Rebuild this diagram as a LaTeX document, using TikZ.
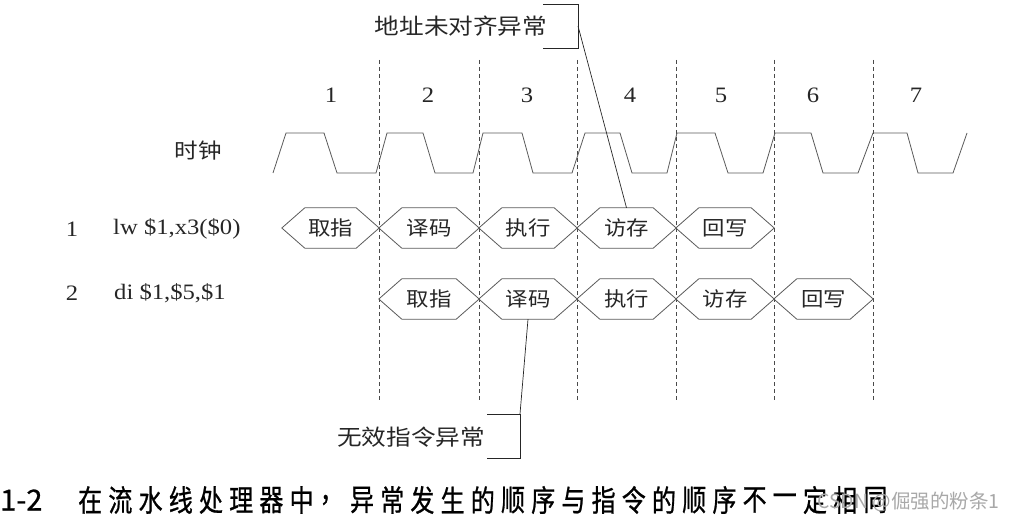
\documentclass[tikz,border=0pt]{standalone}
\usepackage{fontspec}
\setmainfont{Liberation Serif}[FakeStretch=1.12]
\newfontfamily\cjk{Noto Sans CJK SC}[FakeStretch=1.12]
\newfontfamily\capcjk{Noto Sans CJK SC}[FakeStretch=0.8,FakeBold=0.8]
\newfontfamily\capnumfont{Noto Sans CJK SC}[FakeBold=0.8]
\newfontfamily\wmfont{Noto Sans CJK SC}
\definecolor{ink}{HTML}{262626}
\definecolor{linegray}{HTML}{5A5A5A}
\definecolor{gridgray}{HTML}{4A4A4A}
\definecolor{wmgray}{HTML}{A8A8A8}
\begin{document}
\begin{tikzpicture}[x=1pt,y=-1pt,
  lbl/.style={inner sep=0pt, text=ink, font=\fontsize{22}{22}\selectfont},
  cn/.style={inner sep=0pt, text=ink, font=\cjk\fontsize{22}{22}\selectfont},
  hexnode/.style={inner sep=0pt, minimum height=40pt, text=ink, font=\cjk\fontsize{20}{20}\selectfont},
  hexline/.style={draw=linegray, line width=0.8pt},
  gridline/.style={draw=gridgray, line width=0.7pt, dash pattern=on 4pt off 3pt},
  clockline/.style={draw=linegray, line width=0.8pt},
  leader/.style={draw=ink, line width=0.7pt},
  capch/.style={inner sep=0pt, text=black, font=\capcjk\fontsize{30}{30}\selectfont}]
\useasboundingbox (0,0) rectangle (1014,524);

% dashed cycle boundaries
\foreach \x in {379,479,577,676,774,873}
  \draw[gridline] (\x,60) -- (\x,400);

% cycle numbers
\foreach \x/\n in {331/1,428/2,527/3,630/4,721/5,813/6,916/7}
  \node[lbl] (cyc\n) at (\x,95) {\n};

% clock
\node[cn, font=\cjk\fontsize{21}{21}\selectfont] (clk) at (198,151) {时钟};
\draw[clockline] (273,173) -- (286,133) -- (324,133) -- (337,173) -- (376,173)
  -- (387,133) -- (423,133) -- (435,173) -- (473,173)
  -- (483,133) -- (522,133) -- (533,173) -- (572,173)
  -- (585,133) -- (620,133) -- (632,173) -- (667,173)
  -- (677,133) -- (715,133) -- (728,173) -- (763,173)
  -- (775,133) -- (811,133) -- (823,173) -- (858,173)
  -- (873,133) -- (907,133) -- (918,173) -- (953,173) -- (967,133);

% instruction labels
\node[lbl] (n1) at (72,229) {1};
\node[lbl, anchor=west] (i1) at (113,229) {lw \$1,x3(\$0)};
\node[lbl] (n2) at (72,293) {2};
\node[lbl, anchor=west] (i2) at (114,293) {di \$1,\$5,\$1};

% pipeline stages, row 1
\foreach \l/\r/\t [count=\i] in {282/379/取指,379/479/译码,479/577/执行,577/676/访存,676/774/回写}{
  \pgfmathsetmacro\ww{\r-\l}
  \pgfmathsetmacro\cx{(\l+\r)/2}
  \node[hexnode, minimum width=\ww pt] (a\i) at (\cx,228) {\t};
  \draw[hexline] (a\i.west) -- ([xshift=23pt]a\i.north west) -- ([xshift=-23pt]a\i.north east)
    -- (a\i.east) -- ([xshift=-23pt]a\i.south east) -- ([xshift=23pt]a\i.south west) -- cycle;
}
% pipeline stages, row 2
\foreach \l/\r/\t [count=\i] in {379/479/取指,479/577/译码,577/676/执行,676/774/访存,774/873/回写}{
  \pgfmathsetmacro\ww{\r-\l}
  \pgfmathsetmacro\cx{(\l+\r)/2}
  \node[hexnode, minimum width=\ww pt] (b\i) at (\cx,299) {\t};
  \draw[hexline] (b\i.west) -- ([xshift=23pt]b\i.north west) -- ([xshift=-23pt]b\i.north east)
    -- (b\i.east) -- ([xshift=-23pt]b\i.south east) -- ([xshift=23pt]b\i.south west) -- cycle;
}

% annotation: misaligned address
\node[cn] (ex1) at (461,26) {地址未对齐异常};
\draw[leader] (543,4) -- (578,4) -- (578,48) -- (543,48);
\coordinate (br1) at (578,26);
\draw[leader] (br1) -- (a4.north);

% annotation: invalid instruction
\node[cn] (ex2) at (411,437) {无效指令异常};
\draw[leader] (487,414) -- (520,414) -- (520,458) -- (487,458);
\coordinate (br2) at (520,414);
\draw[leader] (br2) -- (b2.south);

% caption
\node[inner sep=0pt, anchor=west, text=black, font=\capnumfont\fontsize{29}{29}\selectfont] (capnum) at (0,500) {1-2};
\foreach \ch [count=\i] in {在,流,水,线,处,理,器,中,，,异,常,发,生,的,顺,序,与,指,令,的,顺,序,不,一,定,相,同}{
  \node[capch, anchor=west] (cap\i) at ({78+30.2*(\i-1)},500) {\ch};
}

% watermark
\node[inner sep=0pt, anchor=west, text=wmgray, font=\wmfont\fontsize{19.5}{19.5}\selectfont] (wm) at (817,502) {CSDN @倔强的粉条1};
\end{tikzpicture}
\end{document}
